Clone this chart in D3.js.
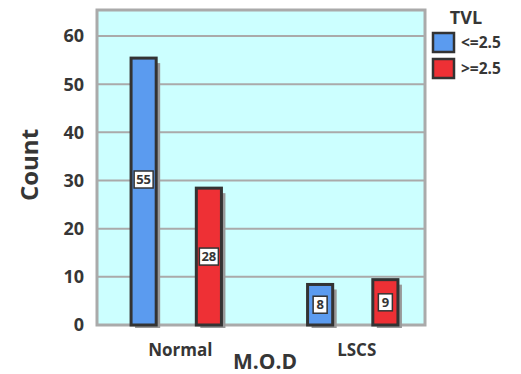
<!DOCTYPE html>
<html>
<head>
<meta charset="utf-8">
<script src="https://cdn.jsdelivr.net/npm/d3@7"></script>
<style>
  body { margin: 0; background: #fff; }
  text { font-family: "Open Sans", sans-serif; fill: #363636; font-weight: bold; }
</style>
</head>
<body>
<div id="chart"></div>
<script>
const categories = ["Normal", "LSCS"];
const groups = ["<=2.5", ">=2.5"];
const lowTVL = [55, 8];
const highTVL = [28, 9];
const yTicks = [0, 10, 20, 30, 40, 50, 60];

const width = 521, height = 374,
  plot = {left: 97, right: 425, top: 10, bottom: 325};

const svg = d3.select("#chart")
  .append("svg")
  .attr("width", width)
  .attr("height", height);

const data = categories.map((c, i) => ({cat: c, values: [lowTVL[i], highTVL[i]]}));

const x = d3.scaleBand(categories, [88, 441]);
const xSub = d3.scaleBand(groups, [0, x.bandwidth()]).paddingInner(0.615).paddingOuter(0.66);
const y = d3.scaleLinear([0, 65.4], [plot.bottom, plot.top]);
const color = d3.scaleOrdinal(groups, ["#5b9bef", "#ee3035"]);

// plot background
svg.append("rect")
  .attr("x", plot.left)
  .attr("y", plot.top)
  .attr("width", plot.right - plot.left)
  .attr("height", plot.bottom - plot.top)
  .attr("fill", "#ccffff");

// gridlines
svg.append("g")
  .selectAll("line")
  .data(yTicks.slice(1))
  .join("line")
  .attr("x1", plot.left)
  .attr("x2", plot.right)
  .attr("y1", d => y(d))
  .attr("y2", d => y(d))
  .attr("stroke", "#aaaaaa")
  .attr("stroke-width", 2);

// frame
svg.append("rect")
  .attr("x", plot.left)
  .attr("y", plot.top)
  .attr("width", plot.right - plot.left)
  .attr("height", plot.bottom - plot.top)
  .attr("fill", "none")
  .attr("stroke", "#aaaaaa")
  .attr("stroke-width", 3);

// y tick labels
svg.append("g")
  .selectAll("text")
  .data(yTicks)
  .join("text")
  .attr("x", 84)
  .attr("y", d => y(d))
  .attr("dy", "0.36em")
  .attr("text-anchor", "end")
  .attr("font-size", 18)
  .text(d => d);

const bars = data.flatMap(d => d.values.map((v, j) => ({cat: d.cat, key: groups[j], value: v})));

const barG = svg.append("g");

// shadows
barG.selectAll(".shadow")
  .data(bars)
  .join("rect")
  .attr("class", "shadow")
  .attr("x", d => x(d.cat) + xSub(d.key) + 4)
  .attr("y", d => y(d.value) + 3)
  .attr("width", xSub.bandwidth())
  .attr("height", d => y(0) - y(d.value))
  .attr("fill", "#999999");

barG.selectAll(".bar")
  .data(bars)
  .join("rect")
  .attr("class", "bar")
  .attr("x", d => x(d.cat) + xSub(d.key))
  .attr("y", d => y(d.value) - 2)
  .attr("width", xSub.bandwidth())
  .attr("height", d => y(0) - y(d.value) + 2)
  .attr("fill", d => color(d.key))
  .attr("stroke", "#333")
  .attr("stroke-width", 3);

// value labels (tall bars keep the label a little higher)
const lab = barG.selectAll(".lab")
  .data(bars)
  .join("g")
  .attr("class", "lab")
  .attr("transform", d => `translate(${x(d.cat) + xSub(d.key) + xSub.bandwidth() / 2},${y(Math.max(d.value / 2, d.value - 25)) - 1})`);

lab.append("rect")
  .attr("x", d => String(d.value).length > 1 ? -9.5 : -7)
  .attr("y", -8.5)
  .attr("width", d => String(d.value).length > 1 ? 19 : 14)
  .attr("height", 17)
  .attr("fill", "#fff")
  .attr("stroke", "#333")
  .attr("stroke-width", 1.5);

lab.append("text")
  .attr("text-anchor", "middle")
  .attr("dy", "0.36em")
  .attr("font-size", 13)
  .attr("font-family", "'Liberation Sans Narrow', 'DejaVu Sans Condensed', sans-serif")
  .attr("font-weight", "normal")
  .text(d => d.value);

// x category labels
svg.append("g")
  .selectAll("text")
  .data(categories)
  .join("text")
  .attr("x", d => x(d) + x.bandwidth() / 2 + 4)
  .attr("y", 356)
  .attr("text-anchor", "middle")
  .attr("font-size", 17)
  .text(d => d);

// axis titles
svg.append("text")
  .attr("x", 265)
  .attr("y", 369)
  .attr("text-anchor", "middle")
  .attr("font-size", 21)
  .text("M.O.D");

svg.append("text")
  .attr("transform", `translate(38,165) rotate(-90)`)
  .attr("text-anchor", "middle")
  .attr("font-size", 24)
  .text("Count");

// legend
svg.append("text")
  .attr("x", 466)
  .attr("y", 24)
  .attr("text-anchor", "middle")
  .attr("font-size", 18)
  .text("TVL");

const legendGroup = svg.selectAll(".legend-group")
  .data(groups)
  .join("g")
  .attr("class", "legend-group")
  .attr("transform", (d, i) => `translate(433,${33 + i * 26})`);

legendGroup.append("rect")
  .attr("width", 21)
  .attr("height", 19)
  .attr("fill", d => color(d))
  .attr("stroke", "#333")
  .attr("stroke-width", 2.5);

legendGroup.append("text")
  .attr("x", 28)
  .attr("y", 10)
  .attr("dy", "0.35em")
  .attr("font-size", 15.5)
  .text(d => d);
</script>
</body>
</html>
